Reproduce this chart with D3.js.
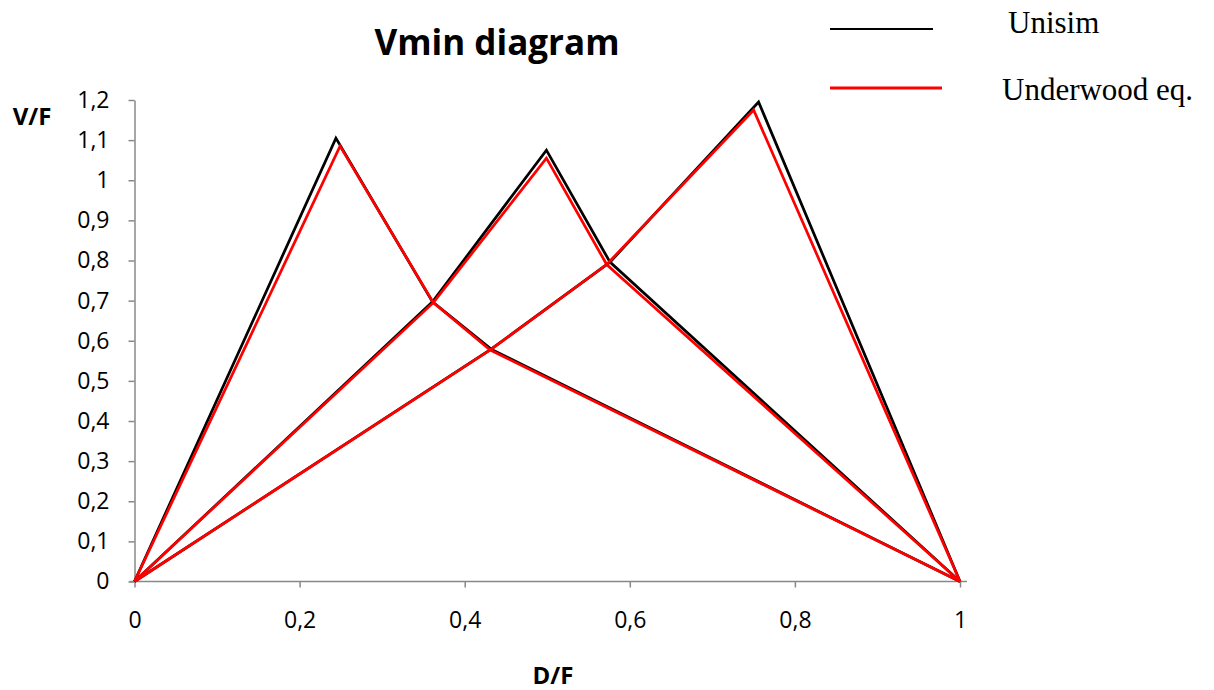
<!DOCTYPE html>
<html>
<head>
<meta charset="utf-8">
<script src="https://cdn.jsdelivr.net/npm/d3@7"></script>
<style>
  body { margin: 0; background: #fff; }
  svg { display: block; }
</style>
</head>
<body>
<div id="chart"></div>
<script>
// data (D/F, V/F)
var unisimLine1 = [[0, 0], [0.244, 1.105], [0.361, 0.697], [0.432, 0.579], [1, 0]];
var unisimLine2 = [[0, 0], [0.361, 0.697], [0.499, 1.075], [0.576, 0.796], [1, 0]];
var unisimLine3 = [[0, 0], [0.432, 0.579], [0.576, 0.796], [0.756, 1.195], [1, 0]];

var underwoodLine1 = [[0, 0], [0.249, 1.085], [0.362, 0.695], [0.431, 0.577], [1, 0]];
var underwoodLine2 = [[0, 0], [0.362, 0.695], [0.499, 1.055], [0.572, 0.790], [1, 0]];
var underwoodLine3 = [[0, 0], [0.431, 0.577], [0.572, 0.790], [0.750, 1.175], [1, 0]];

var xTicks = [0, 0.2, 0.4, 0.6, 0.8, 1];
var yTicks = [0, 0.1, 0.2, 0.3, 0.4, 0.5, 0.6, 0.7, 0.8, 0.9, 1, 1.1, 1.2];

var seriesNames = ["Unisim", "Underwood eq."];
var seriesColors = ["#000000", "#ff0000"];

var width = 1214, height = 690;

var svg = d3.select("#chart")
  .append("svg")
    .attr("width", width)
    .attr("height", height);

var x = d3.scaleLinear().domain([0, 1]).range([134.5, 960]);
var y = d3.scaleLinear().domain([0, 1.2]).range([581.5, 100]);

// comma decimals like the original
var loc = d3.formatLocale({decimal: ",", thousands: ".", grouping: [3], currency: ["", ""]});
var fmt = loc.format(".1~f");

// y axis
var yAxis = svg.append("g")
  .attr("transform", "translate(" + x(0) + ",0)")
  .call(d3.axisLeft(y).tickValues(yTicks).tickFormat(fmt).tickSize(6).tickSizeOuter(0).tickPadding(19));

// x axis
var xAxis = svg.append("g")
  .attr("transform", "translate(0," + y(0) + ")")
  .call(d3.axisBottom(x).tickValues(xTicks).tickFormat(fmt).tickSize(6).tickSizeOuter(0).tickPadding(24));
xAxis.select(".domain").remove();
xAxis.append("line")
  .attr("x1", x(0) - 5).attr("x2", x(1) + 7)
  .attr("y1", 0).attr("y2", 0)
  .attr("stroke", "#888").attr("stroke-width", 1.5);

svg.selectAll(".domain").attr("stroke", "#888").attr("stroke-width", 1.5);
svg.selectAll(".tick line").attr("stroke", "#888").attr("stroke-width", 1.5);
svg.selectAll(".tick text")
  .attr("fill", "#000")
  .attr("font-family", "'Open Sans', sans-serif")
  .attr("font-size", 23);

// lines
var line = d3.line()
  .x(function(d) { return x(d[0]); })
  .y(function(d) { return y(d[1]); });

var groups = [
  [unisimLine1, unisimLine2, unisimLine3],
  [underwoodLine1, underwoodLine2, underwoodLine3]
];

groups.forEach(function(lines, i) {
  svg.append("g")
    .selectAll("path")
    .data(lines)
    .enter()
    .append("path")
      .attr("d", line)
      .attr("fill", "none")
      .attr("stroke", seriesColors[i])
      .attr("stroke-width", 2.75)
      .attr("stroke-linejoin", "miter");
});

// title and axis titles
svg.append("text")
  .attr("x", 497).attr("y", 55)
  .attr("text-anchor", "middle")
  .style("font-family", "'Open Sans', sans-serif")
  .style("font-weight", "bold")
  .style("font-size", "35px")
  .text("Vmin diagram");

svg.append("text")
  .attr("x", 32).attr("y", 125)
  .attr("text-anchor", "middle")
  .style("font-family", "'Open Sans', sans-serif")
  .style("font-weight", "bold")
  .style("font-size", "24px")
  .text("V/F");

svg.append("text")
  .attr("x", 553).attr("y", 684)
  .attr("text-anchor", "middle")
  .style("font-family", "'Open Sans', sans-serif")
  .style("font-weight", "bold")
  .style("font-size", "24px")
  .text("D/F");

// legend (sits above the plot on the right)
var legendY = [29, 88];
var legendEnd = [933, 942];
var legendTextX = [1008, 1002];

seriesNames.forEach(function(name, i) {
  svg.append("line")
    .attr("x1", 830).attr("x2", legendEnd[i])
    .attr("y1", legendY[i]).attr("y2", legendY[i])
    .attr("stroke", seriesColors[i])
    .attr("stroke-width", i == 0 ? 2 : 3);
  svg.append("text")
    .attr("x", legendTextX[i]).attr("y", legendY[i] + 4 + (i == 0 ? 0 : 8))
    .style("font-family", "'Liberation Serif', 'Times New Roman', serif")
    .style("font-size", "31px")
    .text(name);
});
</script>
</body>
</html>
